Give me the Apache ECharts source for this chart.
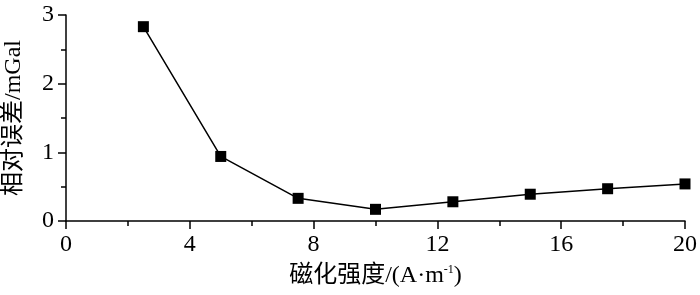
<!DOCTYPE html>
<html>
<head>
<meta charset="utf-8">
<script src="https://cdn.jsdelivr.net/npm/echarts@6/dist/echarts.min.js"></script>
<style>
html,body{margin:0;padding:0;background:#fff;}
#main{width:700px;height:295px;}
</style>
</head>
<body>
<div id="main"></div>
<script>
var xValues = [2.5, 5, 7.5, 10, 12.5, 15, 17.5, 20];
var yValues = [2.83, 0.94, 0.33, 0.17, 0.28, 0.39, 0.47, 0.54];
var xName = '磁化强度/(A·m{sup|-1})';
var yName = '相对误差/mGal';

var serif = "'Times New Roman','Liberation Serif','Noto Sans CJK SC',serif";
var chart = echarts.init(document.getElementById('main'));
var pts = xValues.map(function (x, i) { return [x, yValues[i]]; });
chart.setOption({
  animation: false,
  backgroundColor: '#fff',
  grid: { left: 66, right: 15, top: 15, bottom: 74, containLabel: false, outerBoundsMode: 'none' },
  xAxis: {
    type: 'value', min: 0, max: 20, interval: 4,
    name: xName, nameLocation: 'middle', nameGap: 43,
    nameTextStyle: {
      color: '#000', fontFamily: serif, fontSize: 24,
      rich: { sup: { fontSize: 12, verticalAlign: 'top', color: '#000', fontFamily: serif, padding: [0, 0, 9, 0] } }
    },
    axisLine: { show: true, lineStyle: { color: '#000', width: 1.5 } },
    axisTick: { show: true, length: 8, lineStyle: { color: '#000', width: 1.5 } },
    minorTick: { show: true, splitNumber: 2, length: 5, lineStyle: { color: '#000', width: 1.5 } },
    axisLabel: { color: '#000', fontFamily: serif, fontSize: 24, margin: 12 },
    splitLine: { show: false }
  },
  yAxis: {
    type: 'value', min: 0, max: 3, interval: 1,
    name: yName, nameLocation: 'middle', nameRotate: 90, nameGap: 40,
    nameTextStyle: { color: '#000', fontFamily: serif, fontSize: 24 },
    axisLine: { show: true, lineStyle: { color: '#000', width: 1.5 } },
    axisTick: { show: true, length: 8, lineStyle: { color: '#000', width: 1.5 } },
    minorTick: { show: true, splitNumber: 2, length: 5, lineStyle: { color: '#000', width: 1.5 } },
    axisLabel: { color: '#000', fontFamily: serif, fontSize: 24, margin: 12 },
    splitLine: { show: false }
  },
  series: [{
    type: 'line',
    data: pts,
    symbol: 'rect',
    symbolSize: 11,
    itemStyle: { color: '#000' },
    lineStyle: { color: '#000', width: 1.5 }
  }]
});
</script>
</body>
</html>
